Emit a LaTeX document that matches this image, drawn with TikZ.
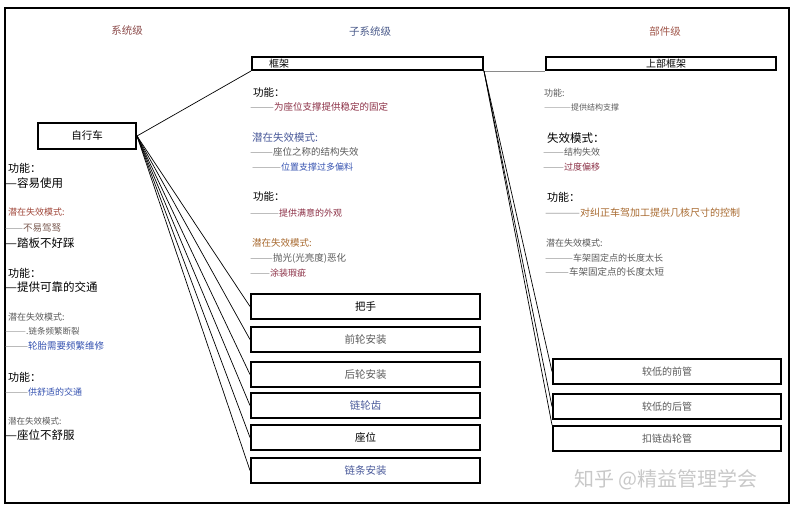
\documentclass[tikz,border=0pt]{standalone}
\usepackage{fontspec}
\usepackage{graphicx}
\setmainfont{Noto Sans CJK SC}
\definecolor{hdrred}{HTML}{8B4A4A}
\definecolor{hdrblue}{HTML}{4A5A8A}
\definecolor{hdrbrown}{HTML}{A0564A}
\definecolor{dred}{HTML}{8B2F45}
\definecolor{tblue}{HTML}{3552B0}
\definecolor{obrown}{HTML}{A86A30}
\definecolor{tgray}{HTML}{5A5A5A}
\definecolor{lgray}{HTML}{8A8A8A}
\definecolor{bbrown}{HTML}{7A5A50}
\definecolor{fmblue}{HTML}{4A5A9A}
\definecolor{fmred}{HTML}{A0473A}
\newcommand{\fs}[1]{\fontsize{#1}{#1}\selectfont}
\newcommand{\dsh}[2]{{\color{lgray}\resizebox{#1pt}{\height}{#2}}}
\tikzset{
  boxn/.style={draw, line width=2pt, inner sep=0pt},
  txt/.style={anchor=west, inner sep=0pt},
  hdr/.style={inner sep=0pt, font=\fs{10.5}},
  link/.style={line width=0.7pt},
}
\begin{document}
\begin{tikzpicture}[x=1pt,y=-1pt]
\useasboundingbox (0,0) rectangle (794,513);
\draw[line width=2pt] (5,8) rectangle (789,503);

% headers
\node[hdr, text=hdrred] (h1) at (127,31) {系统级};
\node[hdr, text=hdrblue] (h2) at (370,32) {子系统级};
\node[hdr, text=hdrbrown] (h3) at (665,32) {部件级};

% top boxes
\node[boxn, minimum width=231, minimum height=13] (frame) at (367.5,63.5) {};
\node[txt, font=\fs{10}] (frametxt) at (269,63.5) {框架};
\node[boxn, minimum width=230, minimum height=13, font=\fs{10}] (upper) at (661,63.5) {\hspace*{10pt}上部框架};

% bike
\node[boxn, minimum width=98, minimum height=26, font=\fs{10.5}] (bike) at (87,136) {自行车};

% middle boxes
\foreach \n/\y/\t/\c in {m1/306.5/把手/black, m2/339.5/前轮安装/tgray, m3/374.5/后轮安装/tgray, m4/405.5/链轮齿/fmblue, m5/437.5/座位/black, m6/470.5/链条安装/fmblue}{
  \node[boxn, minimum width=229, minimum height=25, font=\fs{10.5}, text=\c] (\n) at (365.5,\y) {\t};
}
% right boxes
\foreach \n/\y/\t in {r1/371.5/较低的前管, r2/406.5/较低的后管, r3/438.5/扣链齿轮管}{
  \node[boxn, minimum width=228, minimum height=25, font=\fs{10}, text=tgray] (\n) at (667,\y) {\t};
}

% connectors
\draw[link] (bike.east) -- (frame.south west);
\foreach \n in {m1,m2,m3,m4,m5,m6}{\draw[link] (bike.east) -- (\n.west);}
\draw[line width=0.8pt, lgray] (frame.south east) -- (upper.south west);
\draw[link] (frame.south east) -- (r1.west);
\draw[link] (frame.south east) -- (r2.west);
\draw[link] (frame.south east) -- (r3.north west);

% left column
\node[txt, font=\fs{11}] (l1) at (8,168) {功能：};
\node[txt, font=\fs{11.5}] (l2) at (5,183) {\resizebox{12pt}{\height}{—}容易使用};
\node[txt, font=\fs{9}, text=fmred] (l3) at (8,212) {潜在失效模式:};
\node[txt, font=\fs{9.5}, text=bbrown] (l4) at (5,228) {\dsh{18}{——}不易驾驽};
\node[txt, font=\fs{11.5}] (l5) at (5,243) {\resizebox{12pt}{\height}{—}踏板不好踩};
\node[txt, font=\fs{11}] (l6) at (8,273) {功能：};
\node[txt, font=\fs{11.5}] (l7) at (5,287) {\resizebox{12pt}{\height}{—}提供可靠的交通};
\node[txt, font=\fs{9}, text=tgray] (l8) at (8,317) {潜在失效模式:};
\node[txt, font=\fs{8.5}, text=tgray] (l9) at (5,331) {\dsh{21}{——}.链条频繁断裂};
\node[txt, font=\fs{9.5}, text=tblue] (l10) at (5,346) {\dsh{23}{———}轮胎需要频繁维修};
\node[txt, font=\fs{11}] (l11) at (8,377) {功能：};
\node[txt, font=\fs{9}, text=tblue] (l12) at (5,392) {\dsh{23}{———}供舒适的交通};
\node[txt, font=\fs{8.5}, text=tgray] (l13) at (8,421) {潜在失效模式:};
\node[txt, font=\fs{11.5}] (l14) at (5,435) {\resizebox{12pt}{\height}{—}座位不舒服};

% middle column
\node[txt, font=\fs{10.5}] (c1) at (253,93) {功能：};
\node[txt, font=\fs{9.5}, text=dred] (c2) at (250,107) {\dsh{24}{——}为座位支撑提供稳定的固定};
\node[txt, font=\fs{10.5}, text=fmblue] (c3) at (252,138) {潜在失效模式:};
\node[txt, font=\fs{9.5}, text=tgray] (c4) at (250,152) {\dsh{23}{——}座位之称的结构失效};
\node[txt, font=\fs{9}, text=tblue] (c5) at (252,167) {\dsh{29}{———}位置支撑过多偏料};
\node[txt, font=\fs{10.5}] (c6) at (253,197) {功能：};
\node[txt, font=\fs{9}, text=dred] (c7) at (250,213) {\dsh{29}{———}提供满意的外观};
\node[txt, font=\fs{9.5}, text=obrown] (c8) at (252,243) {潜在失效模式:};
\node[txt, font=\fs{9.5}, text=tgray] (c9) at (250,258) {\dsh{23}{——}抛光(光亮度)恶化};
\node[txt, font=\fs{9}, text=dred] (c10) at (250,273) {\dsh{20}{——}涂装瑕疵};

% right column
\node[txt, font=\fs{9}, text=tgray] (k1) at (544,93) {功能:};
\node[txt, font=\fs{8}, text=tgray] (k2) at (544,107) {\dsh{27}{———}提供结构支撑};
\node[txt, font=\fs{11.5}] (k3) at (547,138) {失效模式：};
\node[txt, font=\fs{9}, text=tgray] (k4) at (543,152) {\dsh{21}{——}结构失效};
\node[txt, font=\fs{9}, text=dred] (k5) at (543,167) {\dsh{21}{——}过度偏移};
\node[txt, font=\fs{11}] (k6) at (547,197) {功能：};
\node[txt, font=\fs{10}, text=obrown] (k7) at (545,213) {\dsh{35}{———}对纠正车驾加工提供几核尺寸的控制};
\node[txt, font=\fs{9}, text=tgray] (k8) at (546,243) {潜在失效模式:};
\node[txt, font=\fs{9}, text=tgray] (k9) at (545,258) {\dsh{28}{———}车架固定点的长度太长};
\node[txt, font=\fs{9.5}, text=tgray] (k10) at (545,272) {\dsh{24}{——}车架固定点的长度太短};

% watermark
\node[inner sep=0pt, font=\fs{20}, text={rgb,255:red,200;green,200;blue,200}] (wm) at (666,480) {知乎 @精益管理学会};
\end{tikzpicture}
\end{document}
